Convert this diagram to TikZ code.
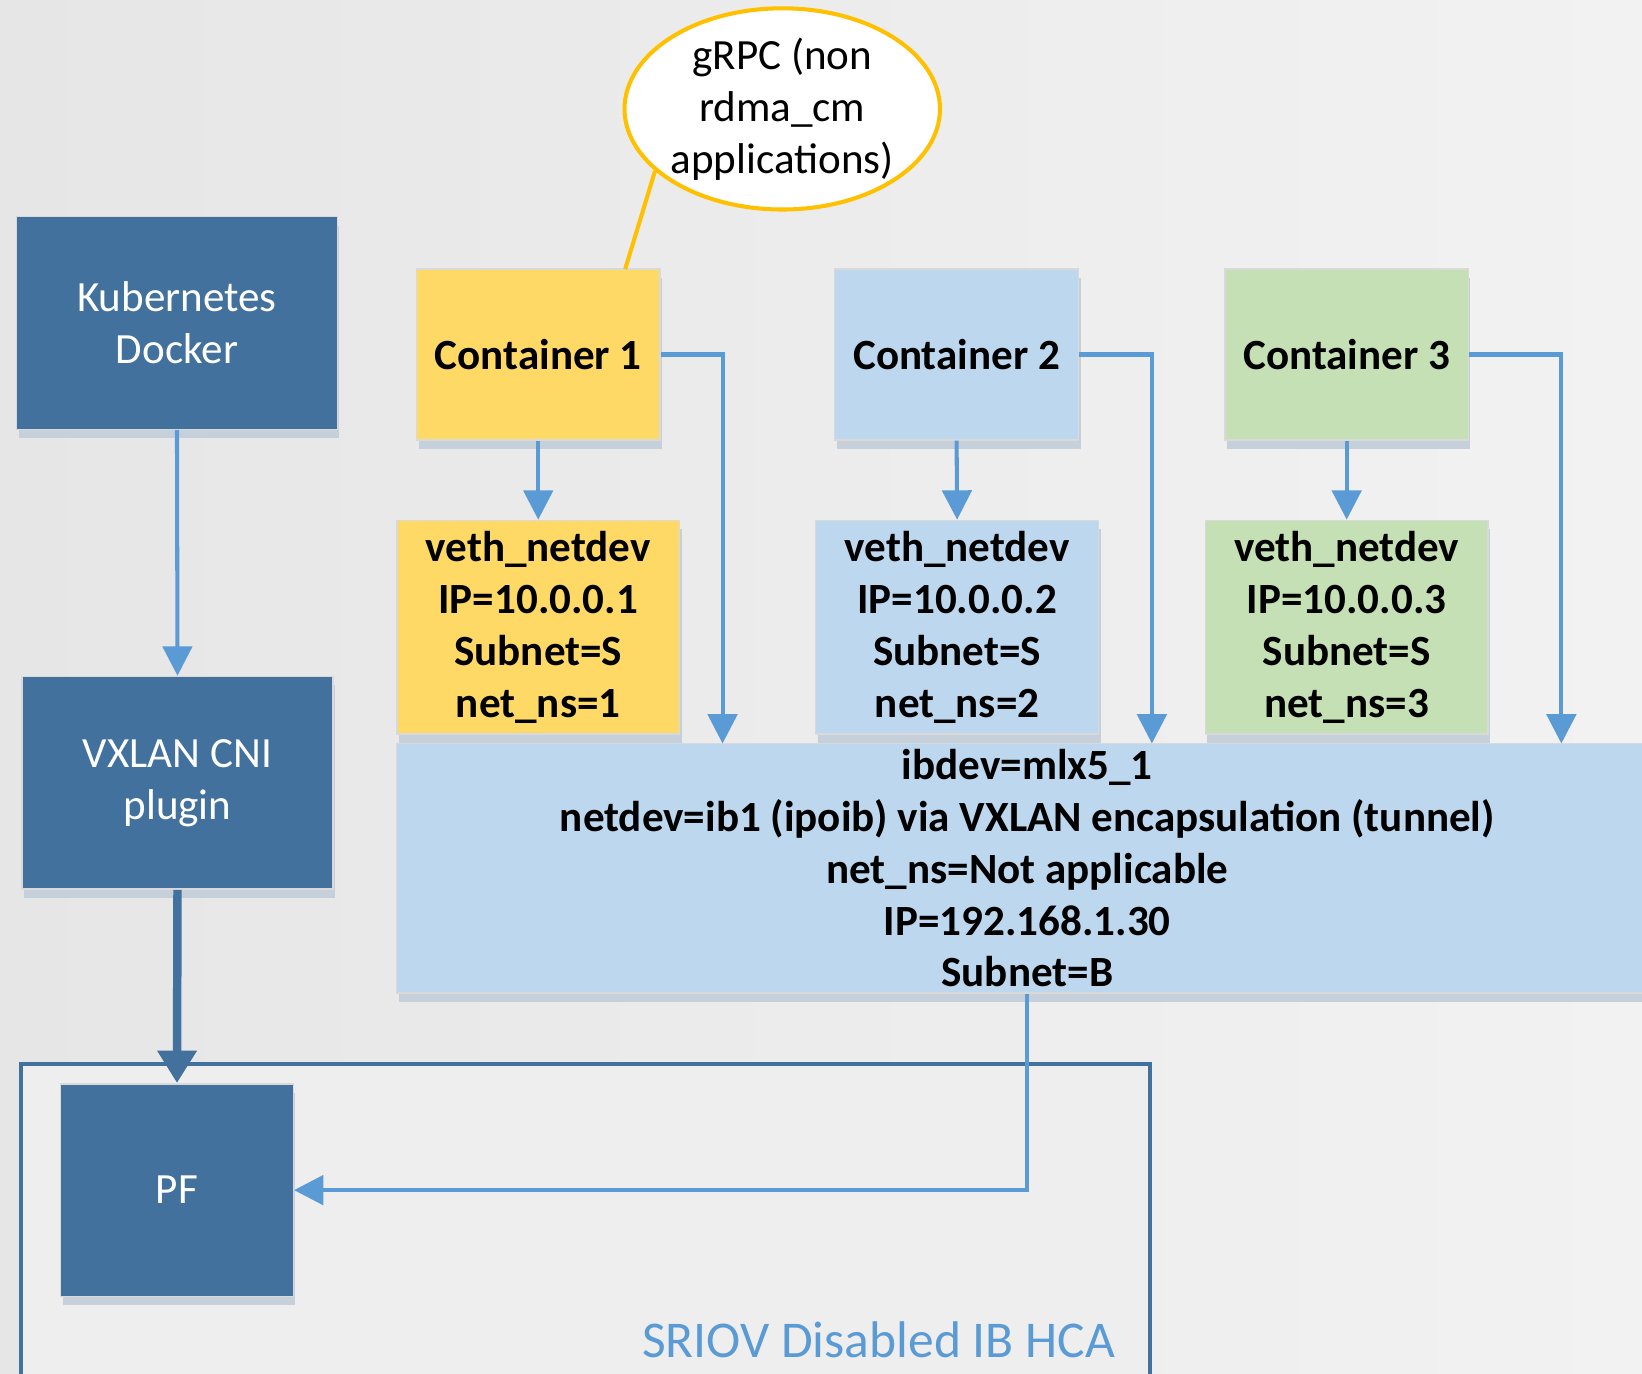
\documentclass[tikz,border=0pt]{standalone}
\usepackage{fontspec}
\setmainfont{Carlito}
\usetikzlibrary{shapes.geometric}
\usetikzlibrary{arrows.meta}
\usetikzlibrary{shadows}

\definecolor{hcablue}{HTML}{41719C}
\definecolor{linkblue}{HTML}{5B9BD5}
\definecolor{ctryellow}{HTML}{FFD966}
\definecolor{ctrblue}{HTML}{BDD7EE}
\definecolor{ctrgreen}{HTML}{C5E0B4}
\definecolor{grpcorange}{HTML}{FFC000}
\definecolor{shadowgray}{HTML}{C6D0DA}
\definecolor{bgleft}{HTML}{E6E6E6}
\definecolor{bgright}{HTML}{F2F2F2}
\definecolor{hcafill}{HTML}{EEEEEE}

\tikzset{
  box/.style={rectangle, inner sep=0pt, align=center, draw=black!15, line width=0.4pt,
    general shadow={fill=shadowgray, shadow xshift=0.02cm, shadow yshift=-0.085cm},
    font=\fontsize{11.7}{14.1}\selectfont},
  hostbox/.style={box, fill=hcablue, text=white},
  ctrbox/.style={box, font=\fontsize{11.7}{14.1}\selectfont\bfseries},
  link/.style={color=linkblue, line width=1.1pt},
}

\begin{document}
\begin{tikzpicture}[x=0.01cm, y=-0.01cm, >={Triangle[length=0.28cm, width=0.28cm]}]
\shade[left color=bgleft, right color=bgright] (0,0) rectangle (1568,1312);
\useasboundingbox (0,0) rectangle (1568,1312);

\draw[hcablue, line width=1pt, fill=hcafill] (20,1016) rectangle (1098,1330);
\node[name=hcalabel, text=linkblue, font=\fontsize{14}{17}\selectfont] at (839,1279) {SRIOV Disabled IB HCA};

\node[name=k8s, hostbox, minimum width=3.06cm, minimum height=2.03cm] at (169,308.5) {Kubernetes\\Docker};
\node[name=vxlan, hostbox, minimum width=2.97cm, minimum height=2.03cm] at (169.5,747.5) {VXLAN CNI\\plugin};
\node[name=pf, hostbox, minimum width=2.22cm, minimum height=2.03cm] at (169,1136.5) {PF};

\node[name=ctr_1, ctrbox, fill=ctryellow, minimum width=2.32cm, minimum height=1.63cm] at (514,338.5) {Container 1};
\node[name=ctr_2, ctrbox, fill=ctrblue, minimum width=2.33cm, minimum height=1.63cm] at (913.5,338.5) {Container 2};
\node[name=ctr_3, ctrbox, fill=ctrgreen, minimum width=2.32cm, minimum height=1.63cm] at (1286,338.5) {Container 3};

\node[name=veth_1, ctrbox, fill=ctryellow, minimum width=2.7cm, minimum height=2.04cm] at (514,599) {veth\_netdev\\IP=10.0.0.1\\Subnet=S\\net\_ns=1};
\node[name=veth_2, ctrbox, fill=ctrblue, minimum width=2.7cm, minimum height=2.04cm] at (914,599) {veth\_netdev\\IP=10.0.0.2\\Subnet=S\\net\_ns=2};
\node[name=veth_3, ctrbox, fill=ctrgreen, minimum width=2.7cm, minimum height=2.04cm] at (1286,599) {veth\_netdev\\IP=10.0.0.3\\Subnet=S\\net\_ns=3};

\node[name=ibdev, ctrbox, fill=ctrblue, minimum width=12.04cm, minimum height=2.38cm] at (981,829) {ibdev=mlx5\_1\\netdev=ib1 (ipoib) via VXLAN encapsulation (tunnel)\\net\_ns=Not applicable\\IP=192.168.1.30\\Subnet=B};

\node[name=grpc, ellipse, draw=grpcorange, fill=white, line width=1.1pt, inner sep=0pt, minimum width=2.96cm, minimum height=1.86cm, align=center, font=\fontsize{11.7}{14.1}\selectfont] at (747,104) {gRPC (non\\rdma\_cm\\applications)};

\coordinate (grpc_tail) at (597,257);
\coordinate (ib_in_1) at (690,710);
\coordinate (ib_in_2) at (1100,710);
\coordinate (ib_in_3) at (1491,710);

\draw[grpcorange, line width=1.1pt](grpc.206) -- (grpc_tail);
\draw[link](k8s.south) edge[link, ->](vxlan.north);
\draw[hcablue, line width=2.3pt](vxlan.south) edge[hcablue, -{Triangle[length=0.31cm, width=0.36cm]}](pf.north);
\draw[link](ctr_1.south) edge[link, ->](veth_1.north);
\draw[link](ctr_2.south) edge[link, ->](veth_2.north);
\draw[link](ctr_3.south) edge[link, ->](veth_3.north);
\draw[link, ->](ctr_1.east) -| (ib_in_1);
\draw[link, ->](ctr_2.east) -| (ib_in_2);
\draw[link, ->](ctr_3.east) -| (ib_in_3);
\draw[link, ->](ibdev.south) |- (pf.east);
\end{tikzpicture}
\end{document}
